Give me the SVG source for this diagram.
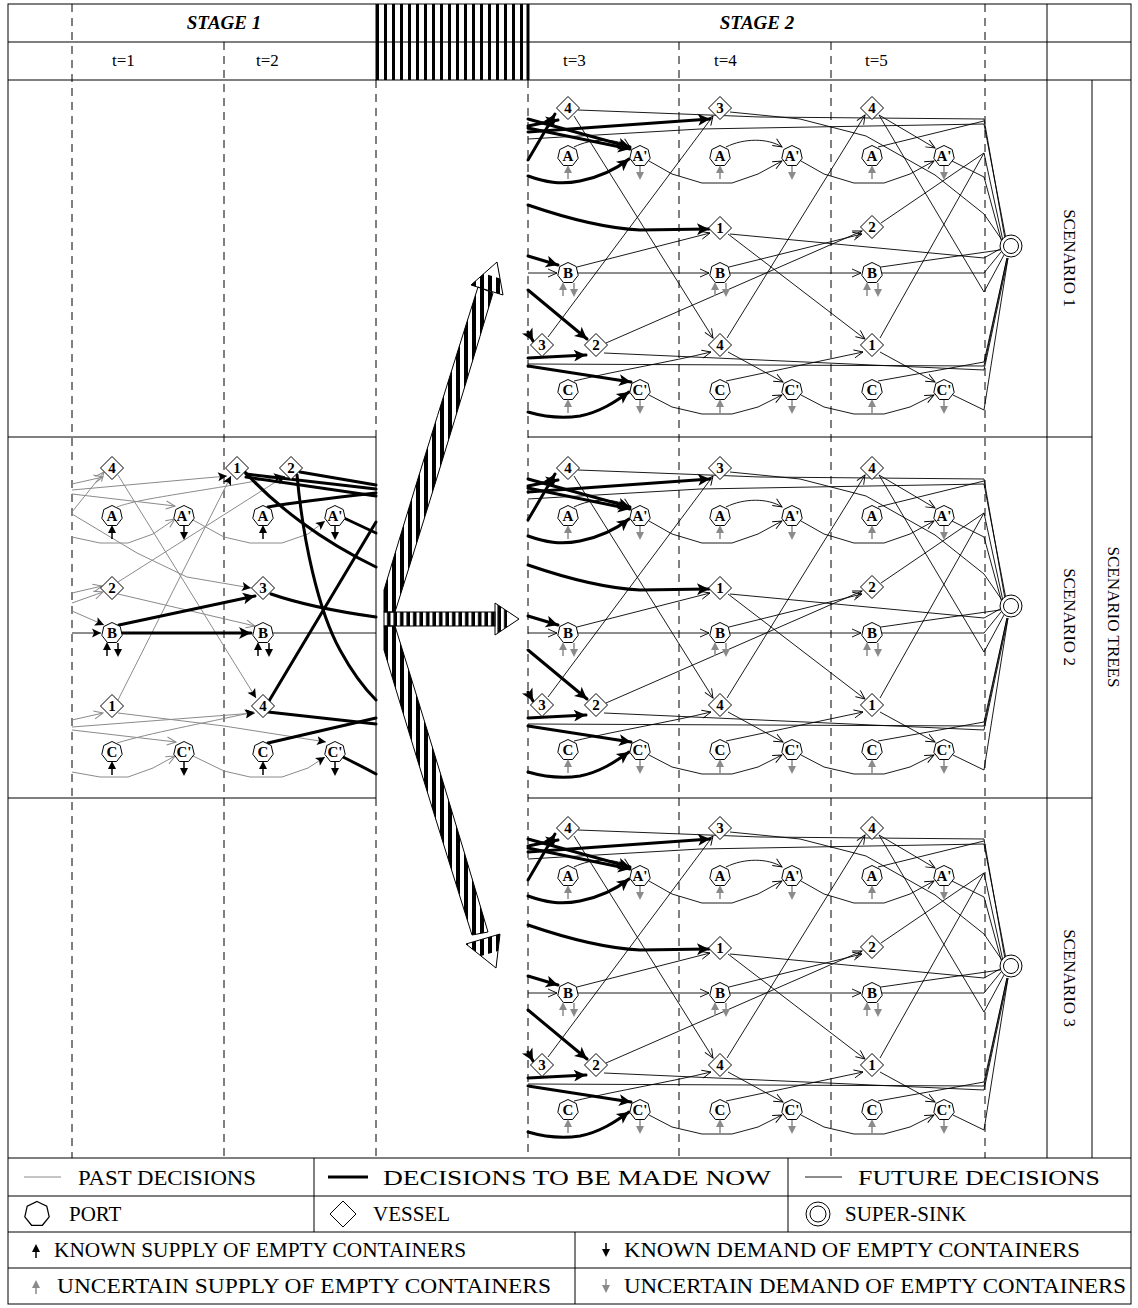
<svg xmlns="http://www.w3.org/2000/svg" width="1138" height="1308" viewBox="0 0 1138 1308">
<style>
.ln{stroke:#000;stroke-width:1;fill:none}
.dsh{stroke:#000;stroke-width:1;fill:none;stroke-dasharray:8 6}
.past{stroke:#8a8a8a;stroke-width:1;fill:none}
.fut{stroke:#000;stroke-width:0.9;fill:none}
.now{stroke:#000;stroke-width:3;fill:none;stroke-linejoin:round;stroke-linecap:round}
.shape{fill:#fff;stroke:#000;stroke-width:1}
.lbl{font-family:"Liberation Serif","Times New Roman",serif;font-weight:bold;font-size:15px;text-anchor:middle}
.stage{font-family:"Liberation Serif","Times New Roman",serif;font-weight:bold;font-style:italic;font-size:19px;text-anchor:middle}
.tl{font-family:"Liberation Serif","Times New Roman",serif;font-size:17px}
.side{font-family:"Liberation Serif","Times New Roman",serif;font-size:17px;text-anchor:middle;dominant-baseline:central}
.leg{font-family:"Liberation Serif","Times New Roman",serif;font-size:21px}
.fa{marker-end:url(#m-fut)}
.pa{marker-end:url(#m-past)}
.na{marker-end:url(#m-now)}
.ka{marker-end:url(#m-ksm)}
</style>
<defs>
  <marker id="m-fut" markerUnits="userSpaceOnUse" markerWidth="12" markerHeight="12" refX="9" refY="4" orient="auto" overflow="visible"><path d="M0,0 L9,4 L0,8" fill="none" stroke="#000" stroke-width="0.9"/></marker>
  <marker id="m-past" markerUnits="userSpaceOnUse" markerWidth="12" markerHeight="12" refX="9" refY="4" orient="auto" overflow="visible"><path d="M0,0 L9,4 L0,8" fill="none" stroke="#8a8a8a" stroke-width="1"/></marker>
  <marker id="m-now" markerUnits="userSpaceOnUse" markerWidth="16" markerHeight="14" refX="12" refY="6" orient="auto" overflow="visible"><path d="M0,0 L12,6 L0,12 L3,6 Z" fill="#000"/></marker>
  <marker id="m-ksm" markerUnits="userSpaceOnUse" markerWidth="12" markerHeight="10" refX="9" refY="4.5" orient="auto" overflow="visible"><path d="M0,0 L9,4.5 L0,9 L2,4.5 Z" fill="#000"/></marker>
  <pattern id="hatch-h" patternUnits="userSpaceOnUse" x="376" y="0" width="8" height="10"><rect width="3" height="10" fill="#000"/></pattern>
  <pattern id="hatch-f" patternUnits="userSpaceOnUse" x="384" y="0" width="8" height="10"><rect width="4" height="10" fill="#000"/></pattern>
  <pattern id="hatch-s" patternUnits="userSpaceOnUse" x="384" y="0" width="6.5" height="10"><rect x="3" width="3.5" height="10" fill="#000"/></pattern>
  <polygon id="port" class="shape" points="0,-10.5 8.2,-6.5 10.2,2.3 4.6,9.5 -4.6,9.5 -10.2,2.3 -8.2,-6.5"/>
  <polygon id="vessel" class="shape" points="0,-11.5 11.5,0 0,11.5 -11.5,0"/>
  <g id="sup-k"><line x1="0" y1="23" x2="0" y2="15" stroke="#000" stroke-width="1.5"/><path d="M-4,17 L0,9 L4,17 Z" fill="#000"/></g>
  <g id="dem-k"><line x1="0" y1="10" x2="0" y2="18" stroke="#000" stroke-width="1.5"/><path d="M-4,16 L0,24 L4,16 Z" fill="#000"/></g>
  <g id="sup-u"><line x1="0" y1="23" x2="0" y2="15" stroke="#8a8a8a" stroke-width="1.5"/><path d="M-4,17 L0,9 L4,17 Z" fill="#8a8a8a"/></g>
  <g id="dem-u"><line x1="0" y1="10" x2="0" y2="18" stroke="#8a8a8a" stroke-width="1.5"/><path d="M-4,16 L0,24 L4,16 Z" fill="#8a8a8a"/></g>
</defs>
<rect width="1138" height="1308" fill="#fff"/>

<!-- header -->
<g id="header">
  <rect x="376" y="4" width="152" height="76" fill="url(#hatch-h)"/>
  <line class="ln" x1="376" y1="4" x2="376" y2="80"/>
  <line x1="528" y1="4" x2="528" y2="80" stroke="#000" stroke-width="3"/>
  <text class="stage" x="224" y="29">STAGE 1</text>
  <text class="stage" x="757" y="29">STAGE 2</text>
  <text class="tl" x="112" y="66">t=1</text>
  <text class="tl" x="256" y="66">t=2</text>
  <text class="tl" x="563" y="66">t=3</text>
  <text class="tl" x="714" y="66">t=4</text>
  <text class="tl" x="865" y="66">t=5</text>
</g>

<!-- frame and grid -->
<g id="grid">
  <rect class="ln" x="8" y="4" width="1123" height="1300"/>
  <line class="ln" x1="8" y1="42" x2="1131" y2="42"/>
  <line class="ln" x1="8" y1="80" x2="1131" y2="80"/>
  <line class="ln" x1="1047" y1="4" x2="1047" y2="1158"/>
  <line class="ln" x1="1092" y1="80" x2="1092" y2="1158"/>
  <line class="ln" x1="528" y1="437" x2="1092" y2="437"/>
  <line class="ln" x1="528" y1="798" x2="1092" y2="798"/>
  <polyline class="ln" points="8,437 376,437 376,798 8,798"/>
  <line class="dsh" x1="72" y1="4" x2="72" y2="1158"/>
  <line class="dsh" x1="224" y1="42" x2="224" y2="1158"/>
  <line class="dsh" x1="376" y1="80" x2="376" y2="437"/>
  <line class="dsh" x1="376" y1="798" x2="376" y2="1158"/>
  <line class="dsh" x1="528" y1="80" x2="528" y2="1158"/>
  <line class="dsh" x1="679" y1="42" x2="679" y2="1158"/>
  <line class="dsh" x1="831" y1="42" x2="831" y2="1158"/>
  <line class="dsh" x1="985" y1="4" x2="985" y2="1158"/>
  <text class="side" transform="translate(1069,258) rotate(90)">SCENARIO 1</text>
  <text class="side" transform="translate(1069,617) rotate(90)">SCENARIO 2</text>
  <text class="side" transform="translate(1069,978) rotate(90)">SCENARIO 3</text>
  <text class="side" transform="translate(1113,617) rotate(90)">SCENARIO TREES</text>
</g>

<!-- branching of the first-stage decision into the scenarios -->
<g id="branch-arrows">
  <path d="M384,612 L384,590 Q420,470 478,287 L493,293 Q440,470 395,612 Z" fill="url(#hatch-f)" stroke="#000" stroke-width="1"/>
  <path d="M384,626 L384,650 Q420,770 472,935 L488,932 Q440,770 395,626 Z" fill="url(#hatch-f)" stroke="#000" stroke-width="1"/>
  <rect x="384" y="612" width="111" height="14" fill="url(#hatch-s)" stroke="#000" stroke-width="1"/>
  <polygon points="471,285 503,295 497,262" fill="url(#hatch-f)"/>
  <polygon points="484,273.5 500,278.5 497,262" fill="#fff"/>
  <polygon points="471,285 503,295 497,262" fill="none" stroke="#000"/>
  <polygon points="466,944 500,934 496,968" fill="url(#hatch-f)"/>
  <polygon points="481,956 498,951 496,968" fill="#fff"/>
  <polygon points="466,944 500,934 496,968" fill="none" stroke="#000"/>
  <polygon points="495,603 495,635 519,619" fill="url(#hatch-s)"/>
  <polygon points="507,611 507,627 519,619" fill="#fff"/>
  <polygon points="495,603 495,635 519,619" fill="none" stroke="#000"/>
</g>

<g id="connectors">
  <!-- stage 1: past decisions -->
  <g id="edges-stage1">
    <path class="past pa" d="M72,484 L103,477"/>
    <path class="past ka" d="M72,490 L227,476"/>
    <path class="past pa" d="M72,494 L175,506"/>
    <path class="past pa" d="M72,512 L104,472"/>
    <path class="past ka" d="M72,514 L137,553 L187,577 L251,588"/>
    <path class="past ka" d="M117,507 C140,498 200,492 283,476"/>
    <path class="past pa" d="M72,537 L100,543 L128,543 L153,534 L175,519"/>
    <path class="past ka" d="M193,520 L224,537 L250,543 L282,543 L308,534 L325,521"/>
    <path class="past ka" d="M118,475 L256,698"/>
    <path class="past ka" d="M118,582 L285,476"/>
    <path class="past ka" d="M118,700 L231,476"/>
    <path class="past pa" d="M118,594 L255,626"/>
    <path class="past pa" d="M72,593 L102,586"/>
    <path class="past pa" d="M72,603 L103,592"/>
    <path class="past ka" d="M72,611 L104,625"/>
    <path class="past pa" d="M72,720 L103,713"/>
    <path class="past ka" d="M72,727 L255,713"/>
    <path class="past pa" d="M72,730 L176,742"/>
    <path class="past ka" d="M118,713 L224,726 L326,742"/>
    <path class="past ka" d="M117,743 C150,733 200,724 254,712"/>
    <path class="past pa" d="M72,772 L100,777 L128,777 L153,768 L175,756"/>
    <path class="past ka" d="M193,756 L224,771 L250,777 L282,777 L308,768 L325,757"/>
    <path class="fut ka" d="M72,633 L101,633"/>
    <path class="fut" d="M273,633 L376,633"/>
    <!-- decisions to be made now -->
    <path class="now na" d="M119,625 L255,596"/>
    <path class="now na" d="M122,633 L251,633"/>
    <path class="now" d="M246,474 L376,489"/>
    <path class="now" d="M246,477 L376,496"/>
    <path class="now" d="M268,507 C290,503 330,498 376,493"/>
    <path class="now" d="M300,472 L376,485"/>
    <path class="now" d="M245,472 C275,505 320,540 376,567"/>
    <path class="now" d="M297,475 C303,540 318,610 340,650 C352,672 364,688 376,700"/>
    <path class="now" d="M344,518 L376,533"/>
    <path class="now" d="M271,594 C300,604 340,612 376,617"/>
    <path class="now" d="M269,701 L376,522"/>
    <path class="now" d="M268,712 L376,724"/>
    <path class="now" d="M268,743 L376,718"/>
    <path class="now" d="M343,757 C355,763 365,768 376,774"/>
  </g>

  <!-- stage 2: one scenario tree, repeated for each scenario -->
  <g id="edges-s1">
    <path class="fut fa" d="M574,116 L713,338"/>
    <path class="fut fa" d="M548,337 L713,116"/>
    <path class="fut fa" d="M606,343 L862,231"/>
    <path class="fut fa" d="M728,234 L865,339"/>
    <path class="fut fa" d="M727,338 L865,115"/>
    <path class="fut" d="M879,115 L984,292 L1004,255"/>
    <path class="fut" d="M881,223 L984,153 L1003,241"/>
    <path class="fut" d="M880,338 L984,153"/>
    <path class="fut" d="M952,161 L984,177 L1002,243"/>
    <path class="fut" d="M878,147 L984,121"/>
    <path class="fut" d="M578,110 L760,117 L984,119"/>
    <path class="fut" d="M730,112 L800,119 L866,136 L935,175 L984,214 L1004,243"/>
    <path class="fut" d="M528,139 L700,129 L984,124"/>
    <path class="fut" d="M984,119 L1005,239"/>
    <path class="fut" d="M984,124 L1006,239"/>
    <path class="fut fa" d="M574,147 C592,138 616,138 630,147"/>
    <path class="fut fa" d="M726,147 C744,138 768,138 782,147"/>
    <path class="fut fa" d="M879,115 L935,148"/>
    <path class="fut fa" d="M649,161 L672,174 L702,183 L732,183 L758,174 L782,161"/>
    <path class="fut fa" d="M801,161 L824,174 L854,183 L884,183 L910,174 L934,161"/>
    <path class="fut fa" d="M528,273 L557,273"/>
    <path class="fut fa" d="M578,273 L709,273"/>
    <path class="fut fa" d="M730,273 L861,273"/>
    <path class="fut" d="M882,273 L984,273 L1001,252"/>
    <path class="fut fa" d="M577,267 L710,233"/>
    <path class="fut fa" d="M729,267 L862,234"/>
    <path class="fut" d="M881,267 L1000,250"/>
    <path class="fut" d="M730,234 L984,258 L1000,249"/>
    <path class="fut fa" d="M574,381 C620,370 670,362 711,352"/>
    <path class="fut fa" d="M726,381 L863,352"/>
    <path class="fut" d="M878,381 L984,362 L1007,258"/>
    <path class="fut fa" d="M728,352 L783,382"/>
    <path class="fut fa" d="M880,352 L935,382"/>
    <path class="fut" d="M604,353 L984,370 L1008,258"/>
    <path class="fut" d="M528,364 L984,366 L1007,258"/>
    <path class="fut fa" d="M649,395 L672,407 L702,414 L732,414 L758,407 L782,395"/>
    <path class="fut fa" d="M801,395 L824,407 L854,414 L884,414 L910,407 L934,395"/>
    <path class="fut" d="M953,395 L984,410 L1008,258"/>
    <path class="now na" d="M528,160 L555,114"/>
    <path class="now na" d="M528,126 L558,120"/>
    <path class="now na" d="M528,132 L710,119"/>
    <path class="now na" d="M528,119 L630,147"/>
    <path class="now na" d="M528,128 L630,149"/>
    <path class="now na" d="M528,176 C545,182 560,185 580,181 C600,177 615,170 629,159"/>
    <path class="now na" d="M528,205 C560,216 600,228 640,230 L709,229"/>
    <path class="now na" d="M528,256 L558,265"/>
    <path class="now na" d="M528,290 L587,339"/>
    <path class="now na" d="M528,332 L533,341"/>
    <path class="now na" d="M528,358 L586,355"/>
    <path class="now na" d="M528,366 L631,382"/>
    <path class="now na" d="M528,412 C545,417 560,419 580,416 C600,412 615,402 629,392"/>
  </g>
  <use id="edges-s2" href="#edges-s1" y="360"/>
  <use id="edges-s3" href="#edges-s1" y="720"/>
</g>

<!-- stage 1 nodes (t=1, t=2) -->
<g id="nodes-stage1">
  <g id="n1-v4" transform="translate(112,468)"><use href="#vessel"/><text class="lbl" y="5">4</text></g>
  <g id="n1-A" transform="translate(112,516)"><use href="#port"/><text class="lbl" y="5">A</text><use href="#sup-k"/></g>
  <g id="n1-Ap" transform="translate(184,516)"><use href="#port"/><text class="lbl" y="5">A'</text><use href="#dem-k"/></g>
  <g id="n1-v2" transform="translate(112,588)"><use href="#vessel"/><text class="lbl" y="5">2</text></g>
  <g id="n1-B" transform="translate(112,633)"><use href="#port"/><text class="lbl" y="5">B</text><use href="#sup-k" x="-5"/><use href="#dem-k" x="6"/></g>
  <g id="n1-v1" transform="translate(112,706)"><use href="#vessel"/><text class="lbl" y="5">1</text></g>
  <g id="n1-C" transform="translate(112,752)"><use href="#port"/><text class="lbl" y="5">C</text><use href="#sup-k"/></g>
  <g id="n1-Cp" transform="translate(184,752)"><use href="#port"/><text class="lbl" y="5">C'</text><use href="#dem-k"/></g>
  <g id="n2-v1" transform="translate(237,468)"><use href="#vessel"/><text class="lbl" y="5">1</text></g>
  <g id="n2-v2" transform="translate(291,468)"><use href="#vessel"/><text class="lbl" y="5">2</text></g>
  <g id="n2-A" transform="translate(263,516)"><use href="#port"/><text class="lbl" y="5">A</text><use href="#sup-k"/></g>
  <g id="n2-Ap" transform="translate(335,516)"><use href="#port"/><text class="lbl" y="5">A'</text><use href="#dem-k"/></g>
  <g id="n2-v3" transform="translate(263,588)"><use href="#vessel"/><text class="lbl" y="5">3</text></g>
  <g id="n2-B" transform="translate(263,633)"><use href="#port"/><text class="lbl" y="5">B</text><use href="#sup-k" x="-5"/><use href="#dem-k" x="6"/></g>
  <g id="n2-v4" transform="translate(263,706)"><use href="#vessel"/><text class="lbl" y="5">4</text></g>
  <g id="n2-C" transform="translate(263,752)"><use href="#port"/><text class="lbl" y="5">C</text><use href="#sup-k"/></g>
  <g id="n2-Cp" transform="translate(335,752)"><use href="#port"/><text class="lbl" y="5">C'</text><use href="#dem-k"/></g>
</g>

<!-- stage 2 nodes, scenario 1 -->
<g id="nodes-s1">
  <g id="s1-t3-v4" transform="translate(568,108)"><use href="#vessel"/><text class="lbl" y="5">4</text></g>
  <g id="s1-t3-A" transform="translate(568,156)"><use href="#port"/><text class="lbl" y="5">A</text><use href="#sup-u"/></g>
  <g id="s1-t3-Ap" transform="translate(640,156)"><use href="#port"/><text class="lbl" y="5">A'</text><use href="#dem-u"/></g>
  <g id="s1-t3-B" transform="translate(568,273)"><use href="#port"/><text class="lbl" y="5">B</text><use href="#sup-u" x="-5"/><use href="#dem-u" x="6"/></g>
  <g id="s1-t3-v3" transform="translate(542,345)"><use href="#vessel"/><text class="lbl" y="5">3</text></g>
  <g id="s1-t3-v2" transform="translate(596,345)"><use href="#vessel"/><text class="lbl" y="5">2</text></g>
  <g id="s1-t3-C" transform="translate(568,390)"><use href="#port"/><text class="lbl" y="5">C</text><use href="#sup-u"/></g>
  <g id="s1-t3-Cp" transform="translate(640,390)"><use href="#port"/><text class="lbl" y="5">C'</text><use href="#dem-u"/></g>
  <g id="s1-t4-v3" transform="translate(720,108)"><use href="#vessel"/><text class="lbl" y="5">3</text></g>
  <g id="s1-t4-A" transform="translate(720,156)"><use href="#port"/><text class="lbl" y="5">A</text><use href="#sup-u"/></g>
  <g id="s1-t4-Ap" transform="translate(792,156)"><use href="#port"/><text class="lbl" y="5">A'</text><use href="#dem-u"/></g>
  <g id="s1-t4-v1" transform="translate(720,228)"><use href="#vessel"/><text class="lbl" y="5">1</text></g>
  <g id="s1-t4-B" transform="translate(720,273)"><use href="#port"/><text class="lbl" y="5">B</text><use href="#sup-u" x="-5"/><use href="#dem-u" x="6"/></g>
  <g id="s1-t4-v4" transform="translate(720,345)"><use href="#vessel"/><text class="lbl" y="5">4</text></g>
  <g id="s1-t4-C" transform="translate(720,390)"><use href="#port"/><text class="lbl" y="5">C</text><use href="#sup-u"/></g>
  <g id="s1-t4-Cp" transform="translate(792,390)"><use href="#port"/><text class="lbl" y="5">C'</text><use href="#dem-u"/></g>
  <g id="s1-t5-v4" transform="translate(872,108)"><use href="#vessel"/><text class="lbl" y="5">4</text></g>
  <g id="s1-t5-A" transform="translate(872,156)"><use href="#port"/><text class="lbl" y="5">A</text><use href="#sup-u"/></g>
  <g id="s1-t5-Ap" transform="translate(944,156)"><use href="#port"/><text class="lbl" y="5">A'</text><use href="#dem-u"/></g>
  <g id="s1-t5-v2" transform="translate(872,227)"><use href="#vessel"/><text class="lbl" y="5">2</text></g>
  <g id="s1-t5-B" transform="translate(872,273)"><use href="#port"/><text class="lbl" y="5">B</text><use href="#sup-u" x="-5"/><use href="#dem-u" x="6"/></g>
  <g id="s1-t5-v1" transform="translate(872,345)"><use href="#vessel"/><text class="lbl" y="5">1</text></g>
  <g id="s1-t5-C" transform="translate(872,390)"><use href="#port"/><text class="lbl" y="5">C</text><use href="#sup-u"/></g>
  <g id="s1-t5-Cp" transform="translate(944,390)"><use href="#port"/><text class="lbl" y="5">C'</text><use href="#dem-u"/></g>
  <g id="s1-sink" transform="translate(1011,246)"><circle class="shape" r="11"/><circle class="shape" r="7.5"/></g>
</g>

<!-- stage 2 nodes, scenario 2 -->
<g id="nodes-s2">
  <g id="s2-t3-v4" transform="translate(568,468)"><use href="#vessel"/><text class="lbl" y="5">4</text></g>
  <g id="s2-t3-A" transform="translate(568,516)"><use href="#port"/><text class="lbl" y="5">A</text><use href="#sup-u"/></g>
  <g id="s2-t3-Ap" transform="translate(640,516)"><use href="#port"/><text class="lbl" y="5">A'</text><use href="#dem-u"/></g>
  <g id="s2-t3-B" transform="translate(568,633)"><use href="#port"/><text class="lbl" y="5">B</text><use href="#sup-u" x="-5"/><use href="#dem-u" x="6"/></g>
  <g id="s2-t3-v3" transform="translate(542,705)"><use href="#vessel"/><text class="lbl" y="5">3</text></g>
  <g id="s2-t3-v2" transform="translate(596,705)"><use href="#vessel"/><text class="lbl" y="5">2</text></g>
  <g id="s2-t3-C" transform="translate(568,750)"><use href="#port"/><text class="lbl" y="5">C</text><use href="#sup-u"/></g>
  <g id="s2-t3-Cp" transform="translate(640,750)"><use href="#port"/><text class="lbl" y="5">C'</text><use href="#dem-u"/></g>
  <g id="s2-t4-v3" transform="translate(720,468)"><use href="#vessel"/><text class="lbl" y="5">3</text></g>
  <g id="s2-t4-A" transform="translate(720,516)"><use href="#port"/><text class="lbl" y="5">A</text><use href="#sup-u"/></g>
  <g id="s2-t4-Ap" transform="translate(792,516)"><use href="#port"/><text class="lbl" y="5">A'</text><use href="#dem-u"/></g>
  <g id="s2-t4-v1" transform="translate(720,588)"><use href="#vessel"/><text class="lbl" y="5">1</text></g>
  <g id="s2-t4-B" transform="translate(720,633)"><use href="#port"/><text class="lbl" y="5">B</text><use href="#sup-u" x="-5"/><use href="#dem-u" x="6"/></g>
  <g id="s2-t4-v4" transform="translate(720,705)"><use href="#vessel"/><text class="lbl" y="5">4</text></g>
  <g id="s2-t4-C" transform="translate(720,750)"><use href="#port"/><text class="lbl" y="5">C</text><use href="#sup-u"/></g>
  <g id="s2-t4-Cp" transform="translate(792,750)"><use href="#port"/><text class="lbl" y="5">C'</text><use href="#dem-u"/></g>
  <g id="s2-t5-v4" transform="translate(872,468)"><use href="#vessel"/><text class="lbl" y="5">4</text></g>
  <g id="s2-t5-A" transform="translate(872,516)"><use href="#port"/><text class="lbl" y="5">A</text><use href="#sup-u"/></g>
  <g id="s2-t5-Ap" transform="translate(944,516)"><use href="#port"/><text class="lbl" y="5">A'</text><use href="#dem-u"/></g>
  <g id="s2-t5-v2" transform="translate(872,587)"><use href="#vessel"/><text class="lbl" y="5">2</text></g>
  <g id="s2-t5-B" transform="translate(872,633)"><use href="#port"/><text class="lbl" y="5">B</text><use href="#sup-u" x="-5"/><use href="#dem-u" x="6"/></g>
  <g id="s2-t5-v1" transform="translate(872,705)"><use href="#vessel"/><text class="lbl" y="5">1</text></g>
  <g id="s2-t5-C" transform="translate(872,750)"><use href="#port"/><text class="lbl" y="5">C</text><use href="#sup-u"/></g>
  <g id="s2-t5-Cp" transform="translate(944,750)"><use href="#port"/><text class="lbl" y="5">C'</text><use href="#dem-u"/></g>
  <g id="s2-sink" transform="translate(1011,606)"><circle class="shape" r="11"/><circle class="shape" r="7.5"/></g>
</g>

<!-- stage 2 nodes, scenario 3 -->
<g id="nodes-s3">
  <g id="s3-t3-v4" transform="translate(568,828)"><use href="#vessel"/><text class="lbl" y="5">4</text></g>
  <g id="s3-t3-A" transform="translate(568,876)"><use href="#port"/><text class="lbl" y="5">A</text><use href="#sup-u"/></g>
  <g id="s3-t3-Ap" transform="translate(640,876)"><use href="#port"/><text class="lbl" y="5">A'</text><use href="#dem-u"/></g>
  <g id="s3-t3-B" transform="translate(568,993)"><use href="#port"/><text class="lbl" y="5">B</text><use href="#sup-u" x="-5"/><use href="#dem-u" x="6"/></g>
  <g id="s3-t3-v3" transform="translate(542,1065)"><use href="#vessel"/><text class="lbl" y="5">3</text></g>
  <g id="s3-t3-v2" transform="translate(596,1065)"><use href="#vessel"/><text class="lbl" y="5">2</text></g>
  <g id="s3-t3-C" transform="translate(568,1110)"><use href="#port"/><text class="lbl" y="5">C</text><use href="#sup-u"/></g>
  <g id="s3-t3-Cp" transform="translate(640,1110)"><use href="#port"/><text class="lbl" y="5">C'</text><use href="#dem-u"/></g>
  <g id="s3-t4-v3" transform="translate(720,828)"><use href="#vessel"/><text class="lbl" y="5">3</text></g>
  <g id="s3-t4-A" transform="translate(720,876)"><use href="#port"/><text class="lbl" y="5">A</text><use href="#sup-u"/></g>
  <g id="s3-t4-Ap" transform="translate(792,876)"><use href="#port"/><text class="lbl" y="5">A'</text><use href="#dem-u"/></g>
  <g id="s3-t4-v1" transform="translate(720,948)"><use href="#vessel"/><text class="lbl" y="5">1</text></g>
  <g id="s3-t4-B" transform="translate(720,993)"><use href="#port"/><text class="lbl" y="5">B</text><use href="#sup-u" x="-5"/><use href="#dem-u" x="6"/></g>
  <g id="s3-t4-v4" transform="translate(720,1065)"><use href="#vessel"/><text class="lbl" y="5">4</text></g>
  <g id="s3-t4-C" transform="translate(720,1110)"><use href="#port"/><text class="lbl" y="5">C</text><use href="#sup-u"/></g>
  <g id="s3-t4-Cp" transform="translate(792,1110)"><use href="#port"/><text class="lbl" y="5">C'</text><use href="#dem-u"/></g>
  <g id="s3-t5-v4" transform="translate(872,828)"><use href="#vessel"/><text class="lbl" y="5">4</text></g>
  <g id="s3-t5-A" transform="translate(872,876)"><use href="#port"/><text class="lbl" y="5">A</text><use href="#sup-u"/></g>
  <g id="s3-t5-Ap" transform="translate(944,876)"><use href="#port"/><text class="lbl" y="5">A'</text><use href="#dem-u"/></g>
  <g id="s3-t5-v2" transform="translate(872,947)"><use href="#vessel"/><text class="lbl" y="5">2</text></g>
  <g id="s3-t5-B" transform="translate(872,993)"><use href="#port"/><text class="lbl" y="5">B</text><use href="#sup-u" x="-5"/><use href="#dem-u" x="6"/></g>
  <g id="s3-t5-v1" transform="translate(872,1065)"><use href="#vessel"/><text class="lbl" y="5">1</text></g>
  <g id="s3-t5-C" transform="translate(872,1110)"><use href="#port"/><text class="lbl" y="5">C</text><use href="#sup-u"/></g>
  <g id="s3-t5-Cp" transform="translate(944,1110)"><use href="#port"/><text class="lbl" y="5">C'</text><use href="#dem-u"/></g>
  <g id="s3-sink" transform="translate(1011,966)"><circle class="shape" r="11"/><circle class="shape" r="7.5"/></g>
</g>

<!-- legend -->
<g id="legend">
  <line class="ln" x1="8" y1="1158" x2="1131" y2="1158"/>
  <line class="ln" x1="8" y1="1196" x2="1131" y2="1196"/>
  <line class="ln" x1="8" y1="1232" x2="1131" y2="1232"/>
  <line class="ln" x1="8" y1="1268" x2="1131" y2="1268"/>
  <line class="ln" x1="314" y1="1158" x2="314" y2="1232"/>
  <line class="ln" x1="788" y1="1158" x2="788" y2="1232"/>
  <line class="ln" x1="575" y1="1232" x2="575" y2="1304"/>
  <line class="past" x1="24" y1="1177" x2="61" y2="1177"/>
  <text class="leg" x="78" y="1185" font-size="22" textLength="178" lengthAdjust="spacingAndGlyphs">PAST DECISIONS</text>
  <line x1="328" y1="1177" x2="368" y2="1177" stroke="#000" stroke-width="3"/>
  <text class="leg" x="383" y="1185" font-size="22" textLength="388" lengthAdjust="spacingAndGlyphs">DECISIONS TO BE MADE NOW</text>
  <line class="fut" x1="805" y1="1177" x2="842" y2="1177"/>
  <text class="leg" x="858" y="1185" font-size="22" textLength="242" lengthAdjust="spacingAndGlyphs">FUTURE DECISIONS</text>
  <polygon class="shape" transform="translate(37,1214) scale(1.25)" points="0,-10 7.82,-6.23 9.75,2.23 4.34,9.01 -4.34,9.01 -9.75,2.23 -7.82,-6.23"/>
  <text class="leg" x="69" y="1221">PORT</text>
  <polygon class="shape" points="343,1201 356,1214 343,1227 330,1214"/>
  <text class="leg" x="373" y="1221">VESSEL</text>
  <circle class="shape" cx="818" cy="1214" r="12"/>
  <circle class="shape" cx="818" cy="1214" r="8"/>
  <text class="leg" x="845" y="1221">SUPER-SINK</text>
  <use href="#sup-k" x="36" y="1235"/>
  <text class="leg" x="54" y="1257" textLength="412" lengthAdjust="spacingAndGlyphs">KNOWN SUPPLY OF EMPTY CONTAINERS</text>
  <use href="#dem-k" x="606" y="1233"/>
  <text class="leg" x="624" y="1257" textLength="456" lengthAdjust="spacingAndGlyphs">KNOWN DEMAND OF EMPTY CONTAINERS</text>
  <use href="#sup-u" x="36" y="1271"/>
  <text class="leg" x="57" y="1293" font-size="22" textLength="494" lengthAdjust="spacingAndGlyphs">UNCERTAIN SUPPLY OF EMPTY CONTAINERS</text>
  <use href="#dem-u" x="606" y="1269"/>
  <text class="leg" x="624" y="1293" font-size="22" textLength="502" lengthAdjust="spacingAndGlyphs">UNCERTAIN DEMAND OF EMPTY CONTAINERS</text>
</g>
</svg>
